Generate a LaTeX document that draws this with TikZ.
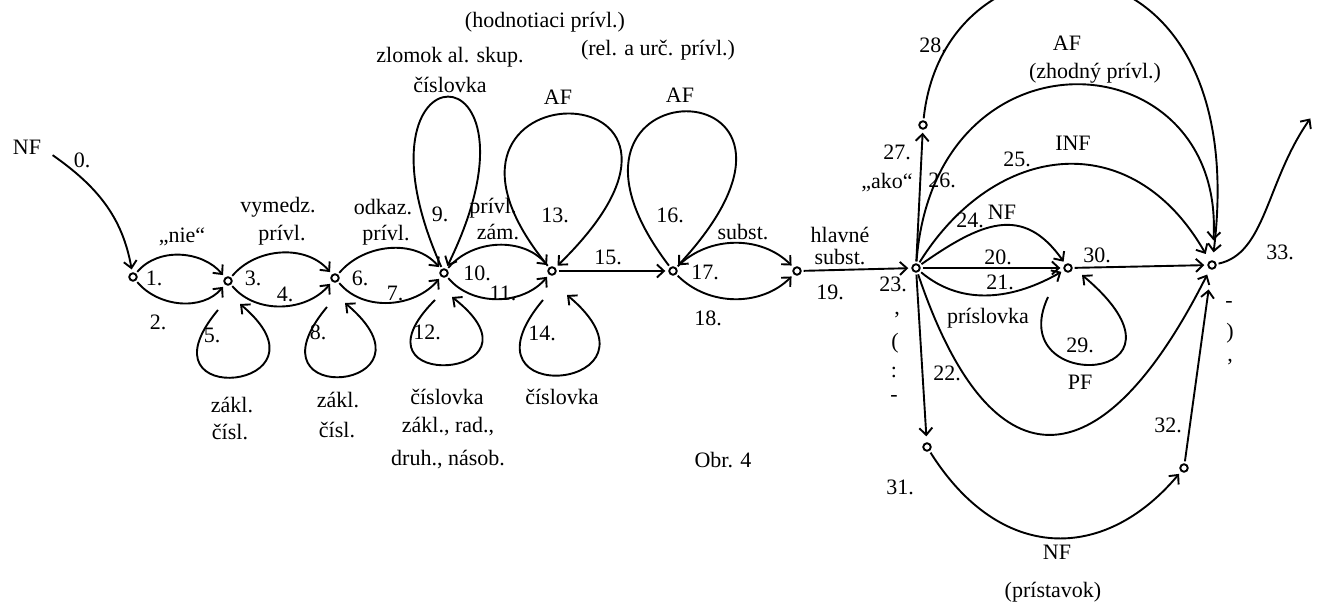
\documentclass[tikz,border=0pt]{standalone}
\usepackage{fontspec}
\setmainfont{Liberation Serif}
\usetikzlibrary{arrows.meta}
\begin{document}
\begin{tikzpicture}[x=1pt,y=1pt,
  st/.style={circle,draw,line width=1.9pt,inner sep=0pt,minimum size=7.5pt},
  arr/.style={-{Straight Barb[length=7pt,width=13pt]},line width=1.9pt,shorten >=3pt,shorten <=2pt},
  lp/.style={-{Straight Barb[length=7pt,width=13pt]},line width=1.9pt},
  lb/.style={inner sep=0pt,font=\fontsize{22}{26}\selectfont},
]
\fill[white] (0,0) rectangle (1317,-609);
\useasboundingbox (0,0) rectangle (1317,-609);

% states
\node[st] (n1) at (133,-277) {};
\node[st] (n2) at (228,-281) {};
\node[st] (n3) at (335,-278) {};
\node[st] (n4) at (444,-273) {};
\node[st] (n5) at (552,-271) {};
\node[st] (n6) at (673,-271) {};
\node[st] (n7) at (797,-271) {};
\node[st] (hub) at (916,-268) {};
\node[st] (n9) at (1068,-268) {};
\node[st] (fin) at (1212,-265) {};
\node[st] (n11) at (923,-125) {};
\node[st] (n31) at (927,-447) {};
\node[st] (n32) at (1184,-468) {};
\coordinate (c0) at (51,-154);
\coordinate (c33) at (1312,-116);

% left chain
\draw[arr] (c0) to[out=-35,in=100] (n1);
\draw[arr] (n1) to[out=50,in=130] (n2);
\draw[arr] (n1) to[out=-50,in=-130] (n2);
\draw[arr] (n2) to[out=50,in=130] (n3);
\draw[arr] (n2) to[out=-50,in=-130] (n3);
\draw[arr] (n3) to[out=50,in=130] (n4);
\draw[arr] (n3) to[out=-50,in=-130] (n4);
\draw[arr] (n4) to[out=50,in=130] (n5);
\draw[arr] (n4) to[out=-50,in=-130] (n5);
\draw[arr] (n5) -- (n6);
\draw[arr] (n6) to[out=45,in=135] (n7);
\draw[arr] (n6) to[out=-45,in=-135] (n7);
\draw[arr] (n7) -- (hub);

% loops below
\draw[lp] ([shift={(-10,-29)}]n2.center) .. controls +(230:133) and +(320:133) .. ([shift={(12,-23)}]n2.center);
\draw[lp] ([shift={(-8,-29)}]n3.center) .. controls +(230:136) and +(320:136) .. ([shift={(10,-25)}]n3.center);
\draw[lp] ([shift={(-9,-27)}]n4.center) .. controls +(225:134) and +(322:134) .. ([shift={(8,-24)}]n4.center);
\draw[lp] ([shift={(-9,-29)}]n5.center) .. controls +(230:147) and +(320:147) .. ([shift={(15,-24)}]n5.center);
% loops above
\draw[arr] (n4) .. controls +(114.1:255) and +(63.9:259) .. (n4);
\draw[arr] (n5) .. controls +(129.4:269) and +(44.3:298) .. (n5);
\draw[arr] (n6) .. controls +(127.3:265) and +(47.3:287) .. (n6);

% right part
\draw[arr] (hub) -- (n9);
\draw[arr] (hub) to[out=-40,in=-150] (n9);
\draw[arr] (hub) to[out=35,in=125,looseness=1.3] (n9);
\draw[arr,shorten >=8pt] (hub) .. controls +(58:150) and +(119.7:161) .. (fin);
\draw[arr,shorten >=20pt] (hub) .. controls +(85.6:249) and +(86.7:227) .. (fin);
\draw[arr] (hub) -- (n11);
\draw[arr,shorten >=8pt] (n11) .. controls +(84:211) and +(83:353) .. (fin);
\draw[arr,shorten >=6pt] (hub) .. controls +(-71.4:232) and +(243.3:250) .. (fin);
\draw[arr,shorten >=6pt] (hub) -- (n31);
\draw[arr] (n31) .. controls +(-57.8:137) and +(229.9:124) .. (n32);
\draw[arr,shorten >=20pt] (n32) -- (fin);
\draw[arr] (n9) -- (fin);
\draw[lp] ([shift={(-20,-29)}]n9.center) .. controls +(245:110) and +(320:170) .. ([shift={(14,-7)}]n9.center);
\draw[arr] (fin) .. controls +(12:55) and +(235:80) .. (c33);

% labels
\node[lb] (tNF0) at (27,-147) {NF};
\node[lb] (t0) at (82,-160) {0.};
\node[lb] (tnie) at (182,-237) {„nie“};
\node[lb] (t1) at (154,-278) {1.};
\node[lb] (t2) at (158,-322) {2.};
\node[lb] (tvym) at (278,-207) {vymedz.};
\node[lb] (tpr3) at (282,-235) {prívl.};
\node[lb] (t3) at (253,-278) {3.};
\node[lb] (t4) at (285,-294) {4.};
\node[lb] (t5) at (212,-335) {5.};
\node[lb] (tz5) at (232,-405) {zákl.};
\node[lb] (tc5) at (230,-432) {čísl.};
\node[lb] (todk) at (383,-207) {odkaz.};
\node[lb] (tpr6) at (386,-235) {prívl.};
\node[lb] (t6) at (360,-278) {6.};
\node[lb] (t7) at (395,-293) {7.};
\node[lb] (t8) at (318,-332) {8.};
\node[lb] (tz8) at (338,-400) {zákl.};
\node[lb] (tc8) at (337,-430) {čísl.};
\node[lb] (t9) at (440,-214) {9.};
\node[lb] (thod) at (545,-22) {(hodnotiaci prívl.)};
\node[lb] (tzlo) at (450,-57) {zlomok al. skup.};
\node[lb] (tcis9) at (450,-85) {číslovka};
\node[lb] (trel) at (658,-50) {(rel. a urč. prívl.)};
\node[lb] (tpr10) at (493,-208) {prívl.};
\node[lb] (tzam) at (498,-232) {zám.};
\node[lb] (t10) at (477,-273) {10.};
\node[lb] (t11) at (503,-293) {11.};
\node[lb] (t12) at (427,-332) {12.};
\node[lb] (tc12a) at (447,-397) {číslovka};
\node[lb] (tc12b) at (448,-427) {zákl., rad.,};
\node[lb] (tc12c) at (448,-460) {druh., násob.};
\node[lb] (tAF13) at (558,-97) {AF};
\node[lb] (t13) at (555,-215) {13.};
\node[lb] (t14) at (542,-333) {14.};
\node[lb] (tc14) at (562,-397) {číslovka};
\node[lb] (t15) at (608,-257) {15.};
\node[lb] (tAF16) at (680,-95) {AF};
\node[lb] (t16) at (670,-215) {16.};
\node[lb] (tsub17) at (743,-232) {subst.};
\node[lb] (t17) at (705,-272) {17.};
\node[lb] (t18) at (708,-318) {18.};
\node[lb] (tobr) at (723,-460) {Obr. 4};
\node[lb] (thl) at (840,-235) {hlavné};
\node[lb] (tsub19) at (840,-257) {subst.};
\node[lb] (t19) at (830,-292) {19.};
\node[lb] (t23) at (893,-284) {23.};
\node[lb] (p1) at (897,-315) {,};
\node[lb] (p2) at (895,-343) {(};
\node[lb] (p3) at (894,-372) {:};
\node[lb] (p4) at (894,-398) {-};
\node[lb] (t27) at (897,-152) {27.};
\node[lb] (tako) at (887,-183) {„ako“};
\node[lb] (t26) at (942,-180) {26.};
\node[lb] (t28) at (933,-45) {28.};
\node[lb] (tAF26) at (1067,-43) {AF};
\node[lb] (tzhod) at (1095,-73) {(zhodný prívl.)};
\node[lb] (tINF) at (1073,-143) {INF};
\node[lb] (t25) at (1017,-159) {25.};
\node[lb] (t24) at (970,-220) {24.};
\node[lb] (tNF24) at (1002,-212) {NF};
\node[lb] (t20) at (998,-257) {20.};
\node[lb] (t21) at (1000,-282) {21.};
\node[lb] (tpris) at (988,-318) {príslovka};
\node[lb] (t22) at (947,-373) {22.};
\node[lb] (t29) at (1080,-345) {29.};
\node[lb] (tPF) at (1080,-382) {PF};
\node[lb] (t30) at (1097,-255) {30.};
\node[lb] (t33) at (1280,-252) {33.};
\node[lb] (q1) at (1229,-304) {-};
\node[lb] (q2) at (1230,-333) {)};
\node[lb] (q3) at (1230,-362) {,};
\node[lb] (t31) at (900,-487) {31.};
\node[lb] (t32) at (1168,-425) {32.};
\node[lb] (tNF31) at (1057,-552) {NF};
\node[lb] (tpri) at (1053,-592) {(prístavok)};
\end{tikzpicture}
\end{document}
